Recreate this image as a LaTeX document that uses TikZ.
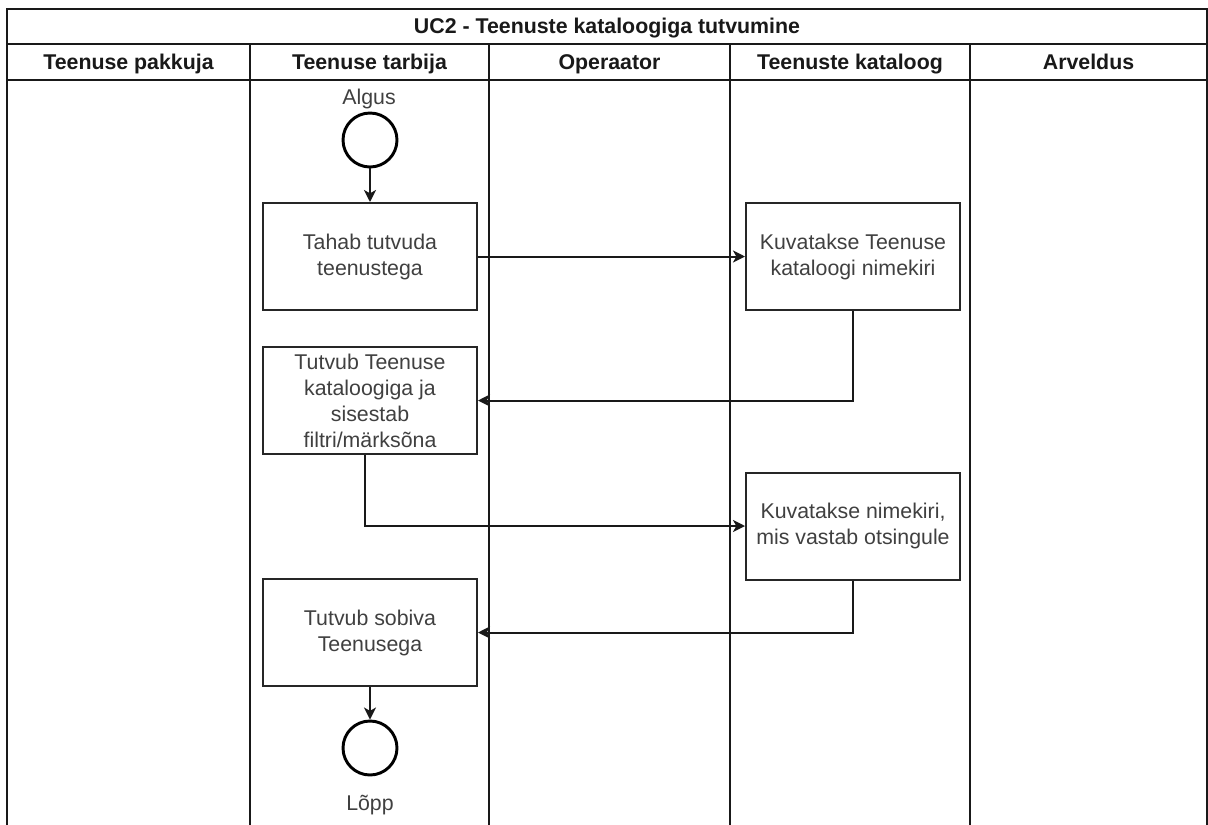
\documentclass[tikz,border=0pt]{standalone}
\usepackage{fontspec}
\setmainfont{Liberation Sans}
\usetikzlibrary{arrows.meta}
\begin{document}
\begin{tikzpicture}[x=0.75pt,y=-0.75pt,
  lane/.style={line width=1.3pt, draw=black!90},
  hdr/.style={font=\fontsize{16}{19}\selectfont\bfseries, text=black!90, inner sep=0pt, anchor=base},
  task/.style={draw=black!85, line width=1.5pt, fill=white, minimum width=160.5pt,
    minimum height=80.25pt, align=center, inner sep=0pt,
    font=\fontsize{16}{19.5}\selectfont, text=black!75},
  ev/.style={circle, draw=black, line width=2.2pt, minimum size=40.5pt, inner sep=0pt},
  lbl/.style={font=\fontsize{16}{19}\selectfont, text=black!75, inner sep=0pt, anchor=base},
  flow/.style={line width=1.5pt, draw=black!90, -{Stealth[length=9pt,width=9pt,inset=2.5pt]}},
]
\clip (0,0) rectangle (1208,825);
\fill[white] (0,0) rectangle (1208,825);

% pool frame, title row and lane header row
\draw[lane] (7,850) -- (7,9) -- (1207,9) -- (1207,850);
\draw[lane] (7,44) -- (1207,44);
\draw[lane] (7,80) -- (1207,80);
\foreach \x in {250,489,730,970} \draw[lane] (\x,44) -- (\x,850);

\node[hdr] (title) at (607,33.5) {UC2 - Teenuste kataloogiga tutvumine};
\node[hdr] (h1) at (128.5,69.5) {Teenuse pakkuja};
\node[hdr] (h2) at (369.5,69.5) {Teenuse tarbija};
\node[hdr] (h3) at (609.5,69.5) {Operaator};
\node[hdr] (h4) at (850,69.5) {Teenuste kataloog};
\node[hdr] (h5) at (1088.5,69.5) {Arveldus};

% events
\node[lbl] (algus) at (369,104.5) {Algus};
\node[ev] (start) at (370,140) {};
\node[ev] (end) at (370,748) {};
\node[lbl] (lopp) at (370,810.5) {Lõpp};

% tasks
\node[task] (b1) at (370,256.5) {Tahab tutvuda\\teenustega};
\node[task] (b2) at (853,256.5) {Kuvatakse Teenuse\\kataloogi nimekiri};
\node[task] (b3) at (370,400.5) {Tutvub Teenuse\\kataloogiga ja\\sisestab\\filtri/märksõna};
\node[task] (b4) at (853,526) {Kuvatakse nimekiri,\\mis vastab otsingule};
\node[task] (b5) at (370,632.5) {Tutvub sobiva\\Teenusega};

% sequence flows
\draw[flow] (start) -- (b1);
\draw[flow] (b1) -- (b2);
\draw[flow] (b2.south) |- (b3.east);
\draw[flow] ([xshift=-3.75pt]b3.south) |- (b4.west);
\draw[flow] (b4.south) |- (b5.east);
\draw[flow] (b5) -- (end);
\end{tikzpicture}
\end{document}
